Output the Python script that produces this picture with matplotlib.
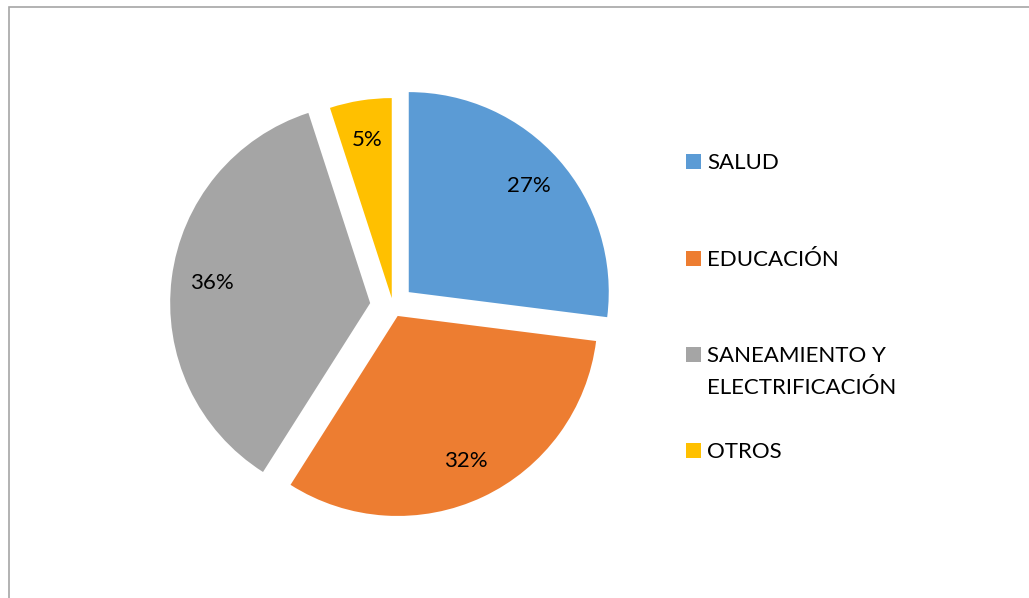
import matplotlib.pyplot as plt
from matplotlib.patches import Rectangle

labels = ['SALUD', 'EDUCACIÓN', 'SANEAMIENTO Y\nELECTRIFICACIÓN', 'OTROS']
values = [27, 32, 36, 5]
colors = ['#5B9BD5', '#ED7D31', '#A5A5A5', '#FFC000']
explode = [0.105, 0.055, 0.115, 0.04]

W, H = 1029, 598
plt.rcParams['font.family'] = ['Lato', 'DejaVu Sans']

fig = plt.figure(figsize=(W / 100, H / 100), dpi=100)

# pie centre (px from top-left) and axes box so that radius 1 = 200 px
cx, cy, half = 393, 306, 260
ax = fig.add_axes([(cx - half) / W, (H - cy - half) / H, 2 * half / W, 2 * half / H])
ax.pie(values, colors=colors, explode=explode, startangle=90, counterclock=False,
       radius=1.0, autopct='%1.0f%%', pctdistance=0.8,
       textprops={'fontsize': 16, 'color': 'black'},
       wedgeprops={'linewidth': 0})
ax.set_xlim(-1.3, 1.3)
ax.set_ylim(-1.3, 1.3)
ax.set_aspect('equal')
ax.axis('off')

# legend drawn by hand: square sits on the first line's baseline
baselines = [169, 266, 362, 458]
line_gap = 32
for lab, col, y in zip(labels, colors, baselines):
    fig.add_artist(Rectangle((686 / W, (H - y) / H), 15 / W, 15 / H,
                             transform=fig.transFigure, color=col, lw=0))
    for i, line in enumerate(lab.split('\n')):
        fig.text(707 / W, (H - y - i * line_gap) / H, line, fontsize=16,
                 va='baseline', ha='left')

# chart frame
fig.add_artist(Rectangle((9 / W, -0.1), 1.2, (H - 7) / H + 0.1,
                         transform=fig.transFigure, fill=False,
                         edgecolor='#A6A6A6', lw=1.2))

fig.savefig('out.png', dpi=100)
